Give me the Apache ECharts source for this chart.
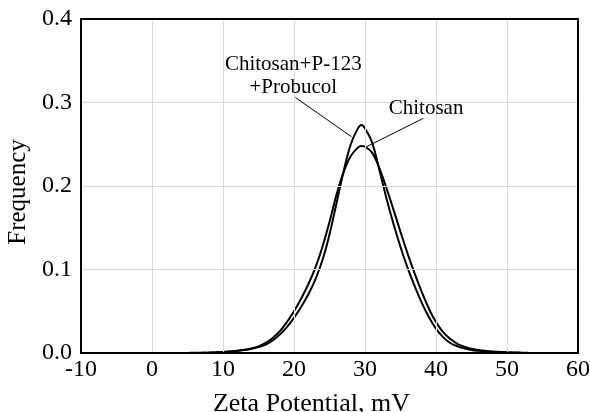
<!DOCTYPE html>
<html>
<head>
<meta charset="utf-8">
<script src="https://cdn.jsdelivr.net/npm/echarts@6/dist/echarts.min.js"></script>
<style>
  html, body { margin: 0; padding: 0; background: #fff; }
  #chart { width: 590px; height: 412px; }
</style>
</head>
<body>
<div id="chart"></div>
<script>
// Zeta potential distributions (frequency vs. mV)
const zeta = [4, 5, 6, 7, 8, 9, 10, 11, 12, 13, 14, 15, 16, 17, 18, 19, 20, 21, 22, 23, 24, 25, 26, 27, 28, 29, 29.5,
  30, 31, 32, 33, 34, 35, 36, 37, 38, 39, 40, 41, 42, 43, 44, 45, 46, 47, 48, 49, 50, 51, 52, 53, 54, 55, 56];

const chitosan = [0, 0.0001, 0.0002, 0.0003, 0.0005, 0.0008, 0.0012, 0.0018, 0.0026, 0.0038, 0.0055, 0.0080, 0.012,
  0.018, 0.026, 0.037, 0.050, 0.065, 0.082, 0.102, 0.127, 0.157, 0.190, 0.217, 0.236, 0.246, 0.248,
  0.247, 0.240, 0.222, 0.198, 0.172, 0.145, 0.119, 0.095, 0.073, 0.053, 0.037, 0.025, 0.017, 0.011, 0.0075,
  0.0050, 0.0035, 0.0025, 0.0018, 0.0013, 0.0009, 0.0006, 0.0004, 0.0002, 0.0001, 0, 0];

const chitosanP123Probucol = [0, 0, 0.0001, 0.0002, 0.0004, 0.0007, 0.0011, 0.0017, 0.0025, 0.0035, 0.005, 0.0072, 0.010,
  0.015, 0.022, 0.031, 0.042, 0.055, 0.070, 0.088, 0.111, 0.142, 0.180, 0.218, 0.250, 0.269, 0.273,
  0.269, 0.252, 0.220, 0.186, 0.155, 0.127, 0.102, 0.080, 0.060, 0.043, 0.029, 0.019, 0.012, 0.008, 0.0055,
  0.0037, 0.0026, 0.0018, 0.0013, 0.0009, 0.0006, 0.0004, 0.0002, 0.0001, 0, 0, 0];

const xTicks = { min: -10, max: 60, step: 10 };
const yTicks = { min: 0, max: 0.4, step: 0.1 };

// Callout labels and their leader lines, in data units
const callouts = [
  { lines: ['Chitosan+P-123', '+Probucol'], at: [19.9, 0.332], from: [20.2, 0.306], to: [28.1, 0.259] },
  { lines: ['Chitosan'], at: [38.6, 0.293], from: [38.2, 0.281], to: [30.2, 0.247] }
];

const FONT = '"Liberation Serif", "Times New Roman", serif';
const pairs = (ys) => zeta.map((x, i) => [x, ys[i]]);

const chart = echarts.init(document.getElementById('chart'), null, { renderer: 'canvas' });

// Top and right edges of the plot frame
const frameAxis = {
  show: true,
  axisLine: { show: true, onZero: false, lineStyle: { color: '#000', width: 2 } },
  axisTick: { show: false }, axisLabel: { show: false }, splitLine: { show: false }, z: 5
};

chart.setOption({
  animation: false,
  grid: { left: 81, right: 12, top: 19, bottom: 59, containLabel: false, outerBoundsMode: 'none' },
  xAxis: [
    {
      type: 'value', min: xTicks.min, max: xTicks.max, interval: xTicks.step,
      name: 'Zeta Potential, mV', nameLocation: 'middle', nameGap: 38,
      nameTextStyle: { fontFamily: FONT, fontSize: 26, color: '#000', padding: [0, 36, 0, 0] },
      axisLine: { show: true, onZero: false, lineStyle: { color: '#000', width: 2 } },
      axisTick: { show: false },
      axisLabel: { fontFamily: FONT, fontSize: 24, color: '#000', margin: 5 },
      splitLine: { show: true, lineStyle: { color: '#d9d9d9', width: 1 } },
      z: 4
    },
    Object.assign({ type: 'value', position: 'top', min: xTicks.min, max: xTicks.max }, frameAxis)
  ],
  yAxis: [
    {
      type: 'value', min: yTicks.min, max: yTicks.max, interval: yTicks.step,
      name: 'Frequency', nameLocation: 'middle', nameGap: 47, nameRotate: 90,
      nameTextStyle: { fontFamily: FONT, fontSize: 25, color: '#000', padding: [0, 12, 0, 0] },
      axisLine: { show: true, onZero: false, lineStyle: { color: '#000', width: 2 } },
      axisTick: { show: false },
      axisLabel: { fontFamily: FONT, fontSize: 24, color: '#000', margin: 9,
        formatter: (v) => v.toFixed(1) },
      splitLine: { show: true, lineStyle: { color: '#d9d9d9', width: 1 } },
      z: 4
    },
    Object.assign({ type: 'value', position: 'right', min: yTicks.min, max: yTicks.max }, frameAxis)
  ],
  series: [
    {
      name: 'Chitosan', type: 'line', data: pairs(chitosan),
      smooth: 0.4, showSymbol: false,
      lineStyle: { color: '#000', width: 2 }, z: 3,
      markLine: {
        silent: true, symbol: 'none',
        lineStyle: { color: '#000', width: 1, type: 'solid' },
        label: { show: false },
        data: callouts.map(c => [{ coord: c.from }, { coord: c.to }])
      }
    },
    {
      name: 'Chitosan+P-123+Probucol', type: 'line', data: pairs(chitosanP123Probucol),
      smooth: 0.4, showSymbol: false,
      lineStyle: { color: '#000', width: 2 }, z: 3
    }
  ]
});

// Place callout text at its data position
const graphics = [];
callouts.forEach(c => {
  const p = chart.convertToPixel({ gridIndex: 0 }, c.at);
  graphics.push({
    type: 'text', x: p[0], y: p[1], z: 10,
    style: { text: c.lines.join('\n'), fontFamily: FONT, fontSize: 21, fill: '#000',
      align: 'center', verticalAlign: 'middle', lineHeight: 23 }
  });
});
chart.setOption({ graphic: graphics });
</script>
</body>
</html>
